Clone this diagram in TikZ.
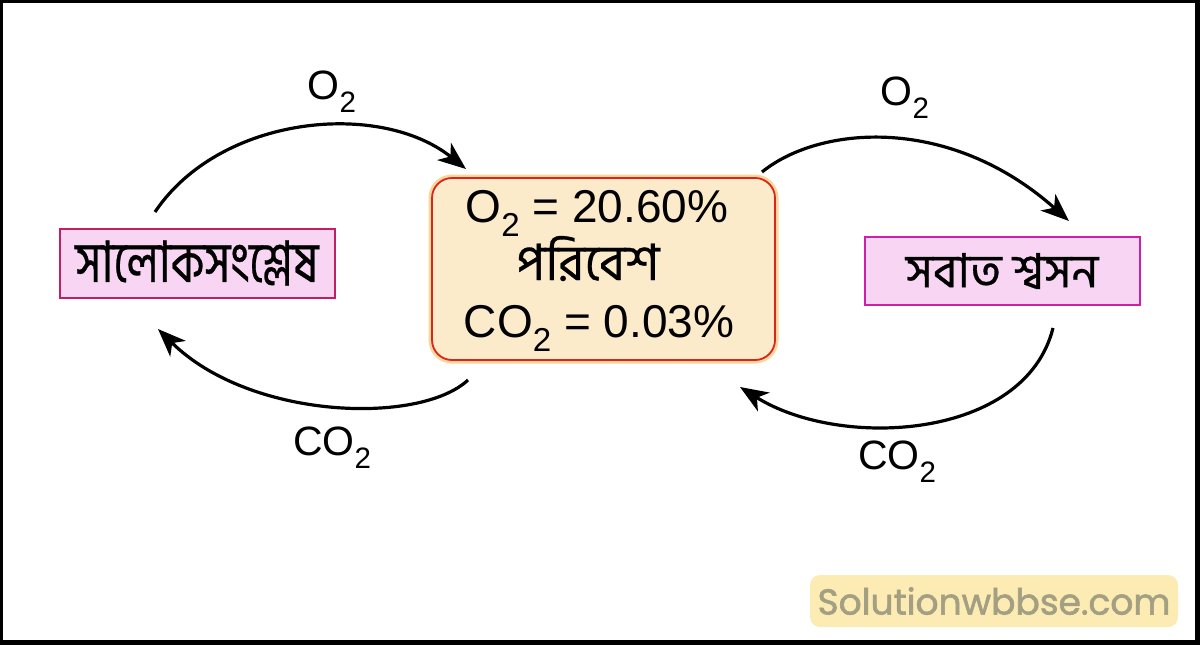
\documentclass[tikz,border=0pt]{standalone}
\usepackage{fontspec}
\setmainfont{Liberation Sans}
\newfontfamily\bn[Script=Bengali, FakeBold=0.6]{Hind Siliguri}
\newfontfamily\wmfont[FakeBold=1.6]{Poppins}
\usetikzlibrary{arrows.meta}
\definecolor{pinkfill}{HTML}{F8D6F3}
\definecolor{leftedge}{HTML}{C21E63}
\definecolor{rightedge}{HTML}{CF1FA6}
\definecolor{peach}{HTML}{FCEBCB}
\definecolor{redge}{HTML}{D8261E}
\definecolor{glow}{HTML}{F6A623}
\definecolor{wmfill}{HTML}{FCEBB2}
\definecolor{wmtext}{HTML}{A29F82}
\newcommand\subtwo{\raisebox{-0.32em}{\fontsize{0.72em}{0.8em}\selectfont 2}}
\tikzset{
  procbox/.style={rectangle, fill=pinkfill, line width=2pt, inner sep=0pt},
  envbox/.style={rectangle, rounded corners=20pt, fill=peach, draw=redge, line width=1.8pt, inner sep=0pt},
  envline/.style={inner sep=0pt, anchor=base, text height=33pt, text depth=0pt},
  flow/.style={line width=3.2pt, -{Stealth[length=28pt,width=22pt,inset=8pt]}},
  gaslabel/.style={font=\fontsize{41}{44}\selectfont, inner sep=0pt}
}
\begin{document}
\begin{tikzpicture}[x=1pt,y=-1pt]
\useasboundingbox (0,0) rectangle (1200,645);
\fill[black] (0,0) rectangle (1200,645);
\fill[white] (3,3) rectangle (1195,640);
% boxes
\node[procbox, draw=leftedge, minimum width=275pt, minimum height=69pt] (photo) at (197,263)
  {\bn\fontsize{57}{60}\selectfont\scalebox{0.79}[1]{সালোকসংশ্লেষ}};
\node[procbox, draw=rightedge, minimum width=275pt, minimum height=68pt] (resp) at (1002,271)
  {\bn\fontsize{47}{50}\selectfont সবাত শ্বসন};
\draw[glow, line width=5pt, opacity=0.45, rounded corners=21pt] (431,177) rectangle (776,361);
\node[envbox, minimum width=343pt, minimum height=182pt] (env) at (603.5,269) {};
\node[envline, font=\fontsize{46}{50}\selectfont] (o2line) at (597,222) {O\subtwo{} = 20.60\%};
\node[envline, font=\bn\fontsize{50}{52}\selectfont, text height=26pt] (envtxt) at (588,280) {পরিবেশ};
\node[envline, font=\fontsize{46}{50}\selectfont] (co2line) at (599,337) {CO\subtwo{} = 0.03\%};
% arrow end coordinates
\coordinate (a1s) at (155,212);
\coordinate (a1e) at (466,169);
\coordinate (a2s) at (468,380);
\coordinate (a2e) at (158,329);
\coordinate (a3s) at (762,172);
\coordinate (a3e) at (1069,221);
\coordinate (a4s) at (1053,328);
\coordinate (a4e) at (740,387);
\draw[flow] (a1s) .. controls (220,115) and (380,100) .. (a1e);
\draw[flow] (a2s) .. controls (420,425) and (250,420) .. (a2e);
\draw[flow] (a3s) .. controls (820,125) and (950,115) .. (a3e);
\draw[flow] (a4s) .. controls (1025,440) and (840,450) .. (a4e);
% labels
\node[gaslabel] (l1) at (332,92) {O\subtwo};
\node[gaslabel] (l2) at (332,448) {CO\subtwo};
\node[gaslabel] (l3) at (905,98) {O\subtwo};
\node[gaslabel] (l4) at (897,462) {CO\subtwo};
% watermark
\node[fill=wmfill, rounded corners=10pt, minimum width=368pt, minimum height=52pt, inner sep=0pt,
      font=\wmfont\fontsize{36}{38}\selectfont, text=wmtext] (wm) at (994,601) {Solutionwbbse.com};
\end{tikzpicture}
\end{document}
